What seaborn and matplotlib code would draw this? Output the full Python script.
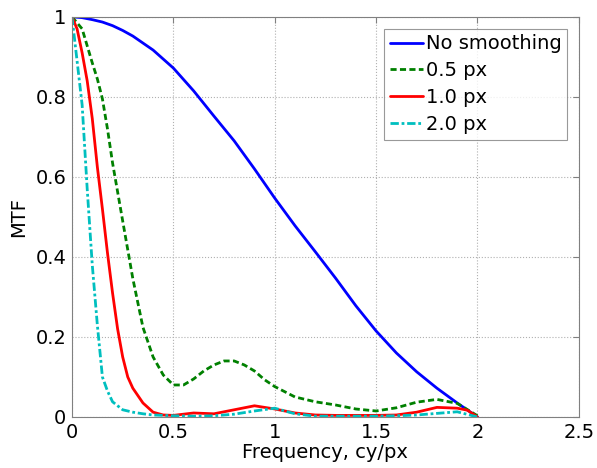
import pandas as pd
import seaborn as sns
import matplotlib
matplotlib.use('Agg')
import matplotlib.pyplot as plt

# Данные
f_none = [0, 0.05, 0.1, 0.15, 0.2, 0.25, 0.3, 0.4, 0.5, 0.6, 0.7, 0.8, 0.9,
          1.0, 1.1, 1.2, 1.3, 1.4, 1.5, 1.6, 1.7, 1.8, 1.9, 2.0]
mtf_none = [1.0, 0.998, 0.993, 0.987, 0.978, 0.966, 0.952, 0.917, 0.872,
            0.815, 0.752, 0.69, 0.62, 0.547, 0.478, 0.413, 0.347, 0.278,
            0.215, 0.16, 0.113, 0.072, 0.035, 0.0]

f_05 = [0, 0.05, 0.1, 0.125, 0.15, 0.175, 0.2, 0.25, 0.3, 0.35, 0.4, 0.45,
        0.5, 0.55, 0.6, 0.65, 0.7, 0.75, 0.8, 0.85, 0.9, 0.95, 1.0, 1.1, 1.2,
        1.3, 1.4, 1.5, 1.6, 1.7, 1.8, 1.9, 2.0]
mtf_05 = [1.0, 0.97, 0.885, 0.845, 0.795, 0.72, 0.635, 0.49, 0.346, 0.224,
          0.15, 0.105, 0.08, 0.08, 0.095, 0.115, 0.13, 0.14, 0.14, 0.13,
          0.115, 0.093, 0.076, 0.05, 0.038, 0.03, 0.02, 0.015, 0.023, 0.037,
          0.044, 0.034, 0.003]

f_10 = [0, 0.025, 0.05, 0.075, 0.1, 0.125, 0.15, 0.175, 0.2, 0.225, 0.25,
        0.275, 0.3, 0.35, 0.4, 0.45, 0.5, 0.6, 0.7, 0.8, 0.9, 1.0, 1.1, 1.2,
        1.3, 1.4, 1.5, 1.6, 1.7, 1.8, 1.9, 1.95, 2.0]
mtf_10 = [1.0, 0.97, 0.91, 0.84, 0.746, 0.625, 0.52, 0.41, 0.31, 0.22, 0.15,
          0.1, 0.072, 0.035, 0.012, 0.005, 0.004, 0.01, 0.008, 0.018, 0.028,
          0.02, 0.01, 0.005, 0.004, 0.004, 0.004, 0.005, 0.012, 0.024, 0.022,
          0.017, 0.0]

f_20 = [0, 0.025, 0.05, 0.075, 0.1, 0.125, 0.15, 0.175, 0.2, 0.25, 0.3, 0.35,
        0.4, 0.5, 0.6, 0.7, 0.8, 0.9, 1.0, 1.1, 1.2, 1.3, 1.4, 1.5, 1.6, 1.7,
        1.8, 1.9, 2.0]
mtf_20 = [1.0, 0.89, 0.78, 0.57, 0.38, 0.23, 0.1, 0.065, 0.038, 0.018, 0.012,
          0.008, 0.005, 0.003, 0.002, 0.003, 0.007, 0.015, 0.022, 0.008, 0.002,
          0.002, 0.002, 0.002, 0.003, 0.005, 0.009, 0.013, 0.0]

labels = ['No smoothing', '0.5 px', '1.0 px', '2.0 px']

series = [
    (f_none, mtf_none, labels[0], (0, 0, 1), '-'),
    (f_05, mtf_05, labels[1], (0, 0.5, 0), (0, (2.2, 1.2))),
    (f_10, mtf_10, labels[2], (1, 0, 0), '-'),
    (f_20, mtf_20, labels[3], (0, 0.75, 0.75), (0, (3, 1, 1, 1))),
]

sns.set_style('white')
plt.rcParams['font.family'] = ['DejaVu Sans']
plt.rcParams['text.color'] = 'black'
plt.rcParams['axes.labelcolor'] = 'black'
plt.rcParams['xtick.labelcolor'] = 'black'
plt.rcParams['ytick.labelcolor'] = 'black'

fig = plt.figure(figsize=(5.97, 4.68), dpi=100)
ax = fig.add_axes([0.1206, 0.109, 0.849, 0.855])

for fx, my, lab, col, ls in series:
    df = pd.DataFrame({'f': fx, 'mtf': my})
    sns.lineplot(x='f', y='mtf', data=df, ax=ax, color=col, linestyle=ls,
                 linewidth=2.0, label=lab, sort=False, estimator=None)

ax.set_xlim(0, 2.5)
ax.set_ylim(0, 1)
ax.set_xticks([0, 0.5, 1, 1.5, 2, 2.5])
ax.set_xticklabels(['0', '0.5', '1', '1.5', '2', '2.5'])
ax.set_yticks([0, 0.2, 0.4, 0.6, 0.8, 1])
ax.set_yticklabels(['0', '0.2', '0.4', '0.6', '0.8', '1'])
ax.grid(True, linestyle=':', color='#b0b0b0', linewidth=0.8)
ax.tick_params(direction='in', top=True, right=True, length=4,
               labelsize=14, color='#808080', labelcolor='black', pad=4)
for s in ax.spines.values():
    s.set_color('#808080')
    s.set_linewidth(0.8)

ax.set_xlabel('Frequency, cy/px', fontsize=14, labelpad=1, color='black')
ax.set_ylabel('MTF', fontsize=14, labelpad=5, color='black')

leg = ax.legend(loc='upper right', fontsize=14, frameon=True, fancybox=False,
                handlelength=1.7, handletextpad=0.15, labelspacing=0.4,
                borderpad=0.3, borderaxespad=0.6, edgecolor='#808080')
leg.get_frame().set_linewidth(0.8)
for t in leg.get_texts():
    t.set_color('black')

plt.savefig('out.png', dpi=100)
